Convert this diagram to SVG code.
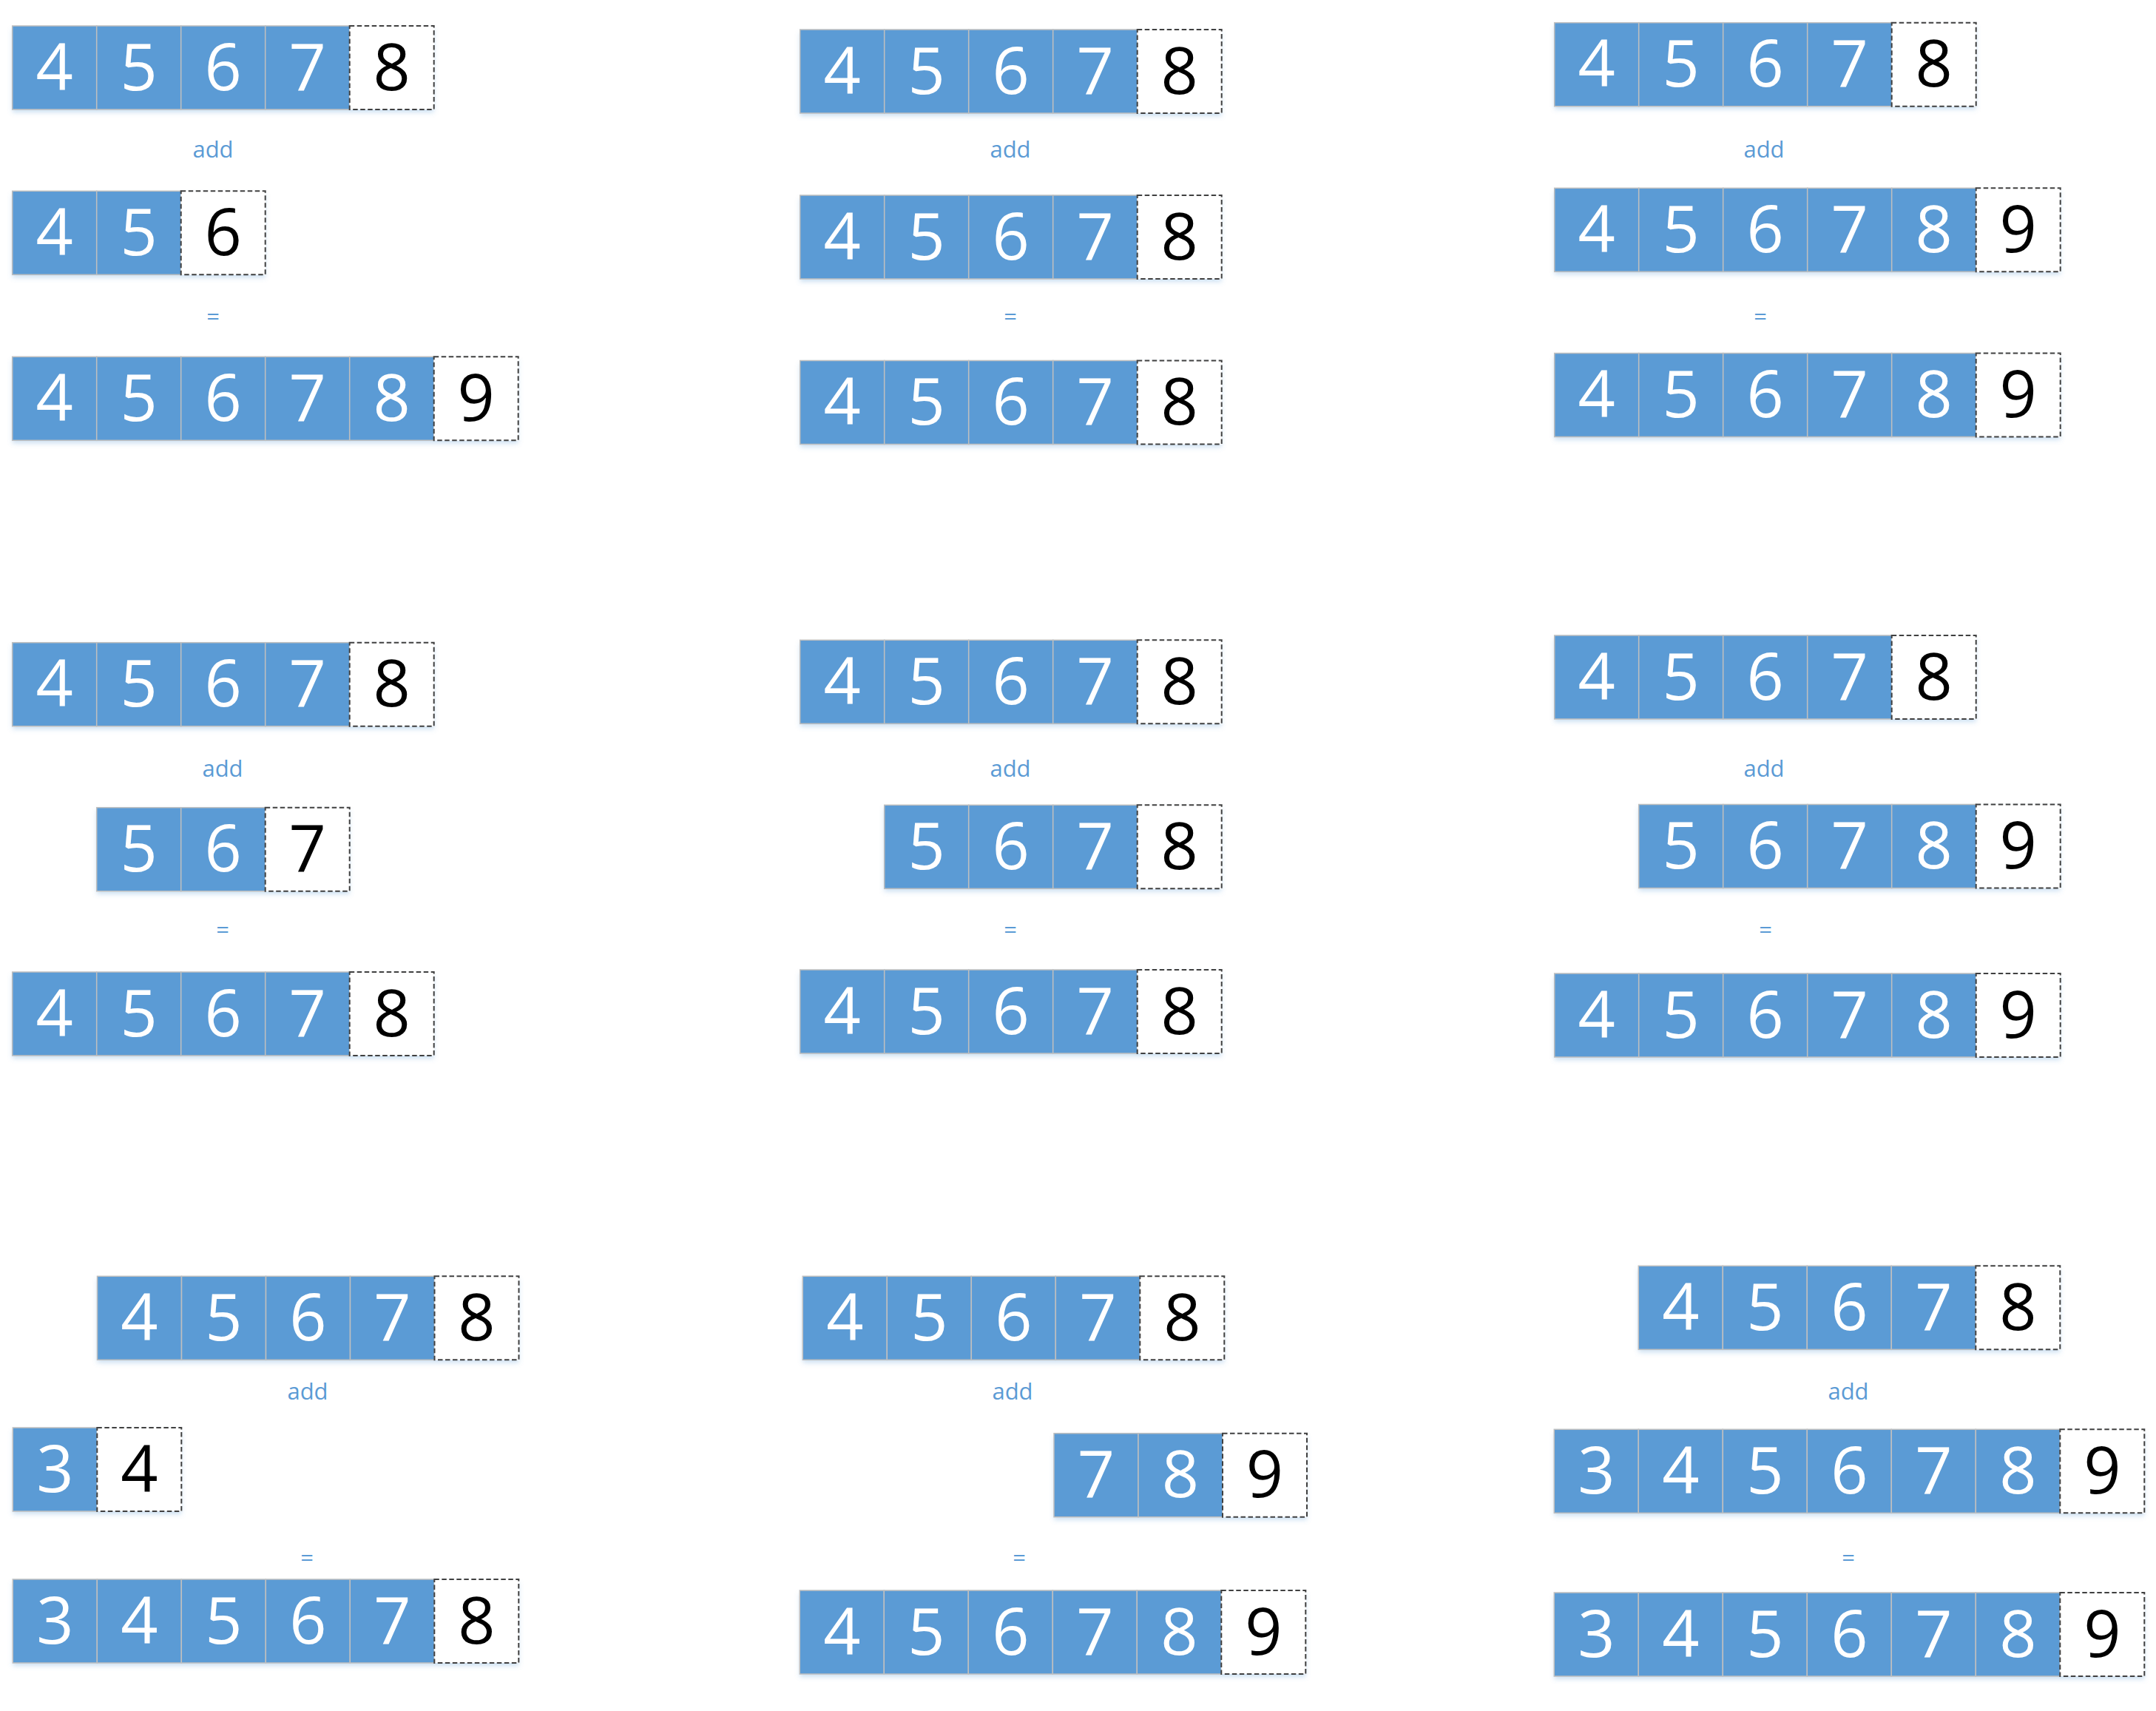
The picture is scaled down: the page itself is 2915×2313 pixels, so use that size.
<svg xmlns="http://www.w3.org/2000/svg" width="2915" height="2313" viewBox="0 0 2915 2313">
<defs>
<filter id="sh" x="-5%" y="-20%" width="110%" height="150%">
<feDropShadow dx="0" dy="4" stdDeviation="3" flood-color="#5B9BD5" flood-opacity="0.3"/>
</filter>
<style>
.s{fill:#fff;filter:url(#sh)}
.c{fill:#5B9BD5;stroke:#BFBFBF;stroke-width:1.5}
.d{fill:#fff;stroke:#404040;stroke-width:2;stroke-dasharray:6.5 3.5}
.w,.k{font-family:"Open Sans","Noto Sans","DejaVu Sans",sans-serif;font-size:88px;text-anchor:middle}
.w{fill:#fff}
.k{fill:#000}
.lbl{font-family:"Open Sans","Noto Sans",sans-serif;font-size:31px;fill:#5B9BD5;text-anchor:middle}
</style>
</defs>
<rect width="2915" height="2313" fill="#fff"/>

<!-- Panel top-left -->
<g id="panel-tl">
<g id="tl-r1" transform="translate(16.7,35)">
<rect class="s" width="570" height="113"/>
<rect class="c" x="0" width="114" height="113"/><text class="w" x="57" y="86.5">4</text>
<rect class="c" x="114" width="114" height="113"/><text class="w" x="171" y="86.5">5</text>
<rect class="c" x="228" width="114" height="113"/><text class="w" x="285" y="86.5">6</text>
<rect class="c" x="342" width="114" height="113"/><text class="w" x="399" y="86.5">7</text>
<rect class="d" x="456" width="114" height="113"/><text class="k" x="513" y="86.5">8</text>
</g>
<text id="tl-add" class="lbl" x="288" y="213">add</text>
<g id="tl-r2" transform="translate(16.7,258.3)">
<rect class="s" width="342" height="113"/>
<rect class="c" x="0" width="114" height="113"/><text class="w" x="57" y="86.5">4</text>
<rect class="c" x="114" width="114" height="113"/><text class="w" x="171" y="86.5">5</text>
<rect class="d" x="228" width="114" height="113"/><text class="k" x="285" y="86.5">6</text>
</g>
<text id="tl-eq" class="lbl" x="288" y="439">=</text>
<g id="tl-r3" transform="translate(16.7,482.3)">
<rect class="s" width="684" height="113"/>
<rect class="c" x="0" width="114" height="113"/><text class="w" x="57" y="86.5">4</text>
<rect class="c" x="114" width="114" height="113"/><text class="w" x="171" y="86.5">5</text>
<rect class="c" x="228" width="114" height="113"/><text class="w" x="285" y="86.5">6</text>
<rect class="c" x="342" width="114" height="113"/><text class="w" x="399" y="86.5">7</text>
<rect class="c" x="456" width="114" height="113"/><text class="w" x="513" y="86.5">8</text>
<rect class="d" x="570" width="114" height="113"/><text class="k" x="627" y="86.5">9</text>
</g>
</g>

<!-- Panel top-middle -->
<g id="panel-tm">
<g id="tm-r1" transform="translate(1081.7,40)">
<rect class="s" width="570" height="113"/>
<rect class="c" x="0" width="114" height="113"/><text class="w" x="57" y="86.5">4</text>
<rect class="c" x="114" width="114" height="113"/><text class="w" x="171" y="86.5">5</text>
<rect class="c" x="228" width="114" height="113"/><text class="w" x="285" y="86.5">6</text>
<rect class="c" x="342" width="114" height="113"/><text class="w" x="399" y="86.5">7</text>
<rect class="d" x="456" width="114" height="113"/><text class="k" x="513" y="86.5">8</text>
</g>
<text id="tm-add" class="lbl" x="1366" y="213">add</text>
<g id="tm-r2" transform="translate(1081.7,264)">
<rect class="s" width="570" height="113"/>
<rect class="c" x="0" width="114" height="113"/><text class="w" x="57" y="86.5">4</text>
<rect class="c" x="114" width="114" height="113"/><text class="w" x="171" y="86.5">5</text>
<rect class="c" x="228" width="114" height="113"/><text class="w" x="285" y="86.5">6</text>
<rect class="c" x="342" width="114" height="113"/><text class="w" x="399" y="86.5">7</text>
<rect class="d" x="456" width="114" height="113"/><text class="k" x="513" y="86.5">8</text>
</g>
<text id="tm-eq" class="lbl" x="1366" y="439">=</text>
<g id="tm-r3" transform="translate(1081.7,487.5)">
<rect class="s" width="570" height="113"/>
<rect class="c" x="0" width="114" height="113"/><text class="w" x="57" y="86.5">4</text>
<rect class="c" x="114" width="114" height="113"/><text class="w" x="171" y="86.5">5</text>
<rect class="c" x="228" width="114" height="113"/><text class="w" x="285" y="86.5">6</text>
<rect class="c" x="342" width="114" height="113"/><text class="w" x="399" y="86.5">7</text>
<rect class="d" x="456" width="114" height="113"/><text class="k" x="513" y="86.5">8</text>
</g>
</g>

<!-- Panel top-right -->
<g id="panel-tr">
<g id="tr-r1" transform="translate(2101.7,30.7)">
<rect class="s" width="570" height="113"/>
<rect class="c" x="0" width="114" height="113"/><text class="w" x="57" y="86.5">4</text>
<rect class="c" x="114" width="114" height="113"/><text class="w" x="171" y="86.5">5</text>
<rect class="c" x="228" width="114" height="113"/><text class="w" x="285" y="86.5">6</text>
<rect class="c" x="342" width="114" height="113"/><text class="w" x="399" y="86.5">7</text>
<rect class="d" x="456" width="114" height="113"/><text class="k" x="513" y="86.5">8</text>
</g>
<text id="tr-add" class="lbl" x="2385" y="213">add</text>
<g id="tr-r2" transform="translate(2101.7,254.3)">
<rect class="s" width="684" height="113"/>
<rect class="c" x="0" width="114" height="113"/><text class="w" x="57" y="86.5">4</text>
<rect class="c" x="114" width="114" height="113"/><text class="w" x="171" y="86.5">5</text>
<rect class="c" x="228" width="114" height="113"/><text class="w" x="285" y="86.5">6</text>
<rect class="c" x="342" width="114" height="113"/><text class="w" x="399" y="86.5">7</text>
<rect class="c" x="456" width="114" height="113"/><text class="w" x="513" y="86.5">8</text>
<rect class="d" x="570" width="114" height="113"/><text class="k" x="627" y="86.5">9</text>
</g>
<text id="tr-eq" class="lbl" x="2380" y="439">=</text>
<g id="tr-r3" transform="translate(2101.7,477.5)">
<rect class="s" width="684" height="113"/>
<rect class="c" x="0" width="114" height="113"/><text class="w" x="57" y="86.5">4</text>
<rect class="c" x="114" width="114" height="113"/><text class="w" x="171" y="86.5">5</text>
<rect class="c" x="228" width="114" height="113"/><text class="w" x="285" y="86.5">6</text>
<rect class="c" x="342" width="114" height="113"/><text class="w" x="399" y="86.5">7</text>
<rect class="c" x="456" width="114" height="113"/><text class="w" x="513" y="86.5">8</text>
<rect class="d" x="570" width="114" height="113"/><text class="k" x="627" y="86.5">9</text>
</g>
</g>

<!-- Panel middle-left -->
<g id="panel-ml">
<g id="ml-r1" transform="translate(16.7,868.7)">
<rect class="s" width="570" height="113"/>
<rect class="c" x="0" width="114" height="113"/><text class="w" x="57" y="86.5">4</text>
<rect class="c" x="114" width="114" height="113"/><text class="w" x="171" y="86.5">5</text>
<rect class="c" x="228" width="114" height="113"/><text class="w" x="285" y="86.5">6</text>
<rect class="c" x="342" width="114" height="113"/><text class="w" x="399" y="86.5">7</text>
<rect class="d" x="456" width="114" height="113"/><text class="k" x="513" y="86.5">8</text>
</g>
<text id="ml-add" class="lbl" x="301" y="1050">add</text>
<g id="ml-r2" transform="translate(130.7,1091.7)">
<rect class="s" width="342" height="113"/>
<rect class="c" x="0" width="114" height="113"/><text class="w" x="57" y="86.5">5</text>
<rect class="c" x="114" width="114" height="113"/><text class="w" x="171" y="86.5">6</text>
<rect class="d" x="228" width="114" height="113"/><text class="k" x="285" y="86.5">7</text>
</g>
<text id="ml-eq" class="lbl" x="301" y="1268">=</text>
<g id="ml-r3" transform="translate(16.7,1314)">
<rect class="s" width="570" height="113"/>
<rect class="c" x="0" width="114" height="113"/><text class="w" x="57" y="86.5">4</text>
<rect class="c" x="114" width="114" height="113"/><text class="w" x="171" y="86.5">5</text>
<rect class="c" x="228" width="114" height="113"/><text class="w" x="285" y="86.5">6</text>
<rect class="c" x="342" width="114" height="113"/><text class="w" x="399" y="86.5">7</text>
<rect class="d" x="456" width="114" height="113"/><text class="k" x="513" y="86.5">8</text>
</g>
</g>

<!-- Panel middle-middle -->
<g id="panel-mm">
<g id="mm-r1" transform="translate(1081.7,865.3)">
<rect class="s" width="570" height="113"/>
<rect class="c" x="0" width="114" height="113"/><text class="w" x="57" y="86.5">4</text>
<rect class="c" x="114" width="114" height="113"/><text class="w" x="171" y="86.5">5</text>
<rect class="c" x="228" width="114" height="113"/><text class="w" x="285" y="86.5">6</text>
<rect class="c" x="342" width="114" height="113"/><text class="w" x="399" y="86.5">7</text>
<rect class="d" x="456" width="114" height="113"/><text class="k" x="513" y="86.5">8</text>
</g>
<text id="mm-add" class="lbl" x="1366" y="1050">add</text>
<g id="mm-r2" transform="translate(1195.7,1088.3)">
<rect class="s" width="456" height="113"/>
<rect class="c" x="0" width="114" height="113"/><text class="w" x="57" y="86.5">5</text>
<rect class="c" x="114" width="114" height="113"/><text class="w" x="171" y="86.5">6</text>
<rect class="c" x="228" width="114" height="113"/><text class="w" x="285" y="86.5">7</text>
<rect class="d" x="342" width="114" height="113"/><text class="k" x="399" y="86.5">8</text>
</g>
<text id="mm-eq" class="lbl" x="1366" y="1268">=</text>
<g id="mm-r3" transform="translate(1081.7,1311)">
<rect class="s" width="570" height="113"/>
<rect class="c" x="0" width="114" height="113"/><text class="w" x="57" y="86.5">4</text>
<rect class="c" x="114" width="114" height="113"/><text class="w" x="171" y="86.5">5</text>
<rect class="c" x="228" width="114" height="113"/><text class="w" x="285" y="86.5">6</text>
<rect class="c" x="342" width="114" height="113"/><text class="w" x="399" y="86.5">7</text>
<rect class="d" x="456" width="114" height="113"/><text class="k" x="513" y="86.5">8</text>
</g>
</g>

<!-- Panel middle-right -->
<g id="panel-mr">
<g id="mr-r1" transform="translate(2101.7,859)">
<rect class="s" width="570" height="113"/>
<rect class="c" x="0" width="114" height="113"/><text class="w" x="57" y="86.5">4</text>
<rect class="c" x="114" width="114" height="113"/><text class="w" x="171" y="86.5">5</text>
<rect class="c" x="228" width="114" height="113"/><text class="w" x="285" y="86.5">6</text>
<rect class="c" x="342" width="114" height="113"/><text class="w" x="399" y="86.5">7</text>
<rect class="d" x="456" width="114" height="113"/><text class="k" x="513" y="86.5">8</text>
</g>
<text id="mr-add" class="lbl" x="2385" y="1050">add</text>
<g id="mr-r2" transform="translate(2215.7,1087.5)">
<rect class="s" width="570" height="113"/>
<rect class="c" x="0" width="114" height="113"/><text class="w" x="57" y="86.5">5</text>
<rect class="c" x="114" width="114" height="113"/><text class="w" x="171" y="86.5">6</text>
<rect class="c" x="228" width="114" height="113"/><text class="w" x="285" y="86.5">7</text>
<rect class="c" x="342" width="114" height="113"/><text class="w" x="399" y="86.5">8</text>
<rect class="d" x="456" width="114" height="113"/><text class="k" x="513" y="86.5">9</text>
</g>
<text id="mr-eq" class="lbl" x="2387" y="1268">=</text>
<g id="mr-r3" transform="translate(2101.7,1316)">
<rect class="s" width="684" height="113"/>
<rect class="c" x="0" width="114" height="113"/><text class="w" x="57" y="86.5">4</text>
<rect class="c" x="114" width="114" height="113"/><text class="w" x="171" y="86.5">5</text>
<rect class="c" x="228" width="114" height="113"/><text class="w" x="285" y="86.5">6</text>
<rect class="c" x="342" width="114" height="113"/><text class="w" x="399" y="86.5">7</text>
<rect class="c" x="456" width="114" height="113"/><text class="w" x="513" y="86.5">8</text>
<rect class="d" x="570" width="114" height="113"/><text class="k" x="627" y="86.5">9</text>
</g>
</g>

<!-- Panel bottom-left -->
<g id="panel-bl">
<g id="bl-r1" transform="translate(131.5,1725.3)">
<rect class="s" width="570" height="113"/>
<rect class="c" x="0" width="114" height="113"/><text class="w" x="57" y="86.5">4</text>
<rect class="c" x="114" width="114" height="113"/><text class="w" x="171" y="86.5">5</text>
<rect class="c" x="228" width="114" height="113"/><text class="w" x="285" y="86.5">6</text>
<rect class="c" x="342" width="114" height="113"/><text class="w" x="399" y="86.5">7</text>
<rect class="d" x="456" width="114" height="113"/><text class="k" x="513" y="86.5">8</text>
</g>
<text id="bl-add" class="lbl" x="416" y="1892">add</text>
<g id="bl-r2" transform="translate(17.3,1930)">
<rect class="s" width="228" height="113"/>
<rect class="c" x="0" width="114" height="113"/><text class="w" x="57" y="86.5">3</text>
<rect class="d" x="114" width="114" height="113"/><text class="k" x="171" y="86.5">4</text>
</g>
<text id="bl-eq" class="lbl" x="415" y="2117">=</text>
<g id="bl-r3" transform="translate(17.3,2135)">
<rect class="s" width="684" height="113"/>
<rect class="c" x="0" width="114" height="113"/><text class="w" x="57" y="86.5">3</text>
<rect class="c" x="114" width="114" height="113"/><text class="w" x="171" y="86.5">4</text>
<rect class="c" x="228" width="114" height="113"/><text class="w" x="285" y="86.5">5</text>
<rect class="c" x="342" width="114" height="113"/><text class="w" x="399" y="86.5">6</text>
<rect class="c" x="456" width="114" height="113"/><text class="w" x="513" y="86.5">7</text>
<rect class="d" x="570" width="114" height="113"/><text class="k" x="627" y="86.5">8</text>
</g>
</g>

<!-- Panel bottom-middle -->
<g id="panel-bm">
<g id="bm-r1" transform="translate(1085.3,1725.3)">
<rect class="s" width="570" height="113"/>
<rect class="c" x="0" width="114" height="113"/><text class="w" x="57" y="86.5">4</text>
<rect class="c" x="114" width="114" height="113"/><text class="w" x="171" y="86.5">5</text>
<rect class="c" x="228" width="114" height="113"/><text class="w" x="285" y="86.5">6</text>
<rect class="c" x="342" width="114" height="113"/><text class="w" x="399" y="86.5">7</text>
<rect class="d" x="456" width="114" height="113"/><text class="k" x="513" y="86.5">8</text>
</g>
<text id="bm-add" class="lbl" x="1369" y="1892">add</text>
<g id="bm-r2" transform="translate(1425,1937.7)">
<rect class="s" width="342" height="113"/>
<rect class="c" x="0" width="114" height="113"/><text class="w" x="57" y="86.5">7</text>
<rect class="c" x="114" width="114" height="113"/><text class="w" x="171" y="86.5">8</text>
<rect class="d" x="228" width="114" height="113"/><text class="k" x="285" y="86.5">9</text>
</g>
<text id="bm-eq" class="lbl" x="1378" y="2117">=</text>
<g id="bm-r3" transform="translate(1081.3,2150)">
<rect class="s" width="684" height="113"/>
<rect class="c" x="0" width="114" height="113"/><text class="w" x="57" y="86.5">4</text>
<rect class="c" x="114" width="114" height="113"/><text class="w" x="171" y="86.5">5</text>
<rect class="c" x="228" width="114" height="113"/><text class="w" x="285" y="86.5">6</text>
<rect class="c" x="342" width="114" height="113"/><text class="w" x="399" y="86.5">7</text>
<rect class="c" x="456" width="114" height="113"/><text class="w" x="513" y="86.5">8</text>
<rect class="d" x="570" width="114" height="113"/><text class="k" x="627" y="86.5">9</text>
</g>
</g>

<!-- Panel bottom-right -->
<g id="panel-br">
<g id="br-r1" transform="translate(2215.3,1711.3)">
<rect class="s" width="570" height="113"/>
<rect class="c" x="0" width="114" height="113"/><text class="w" x="57" y="86.5">4</text>
<rect class="c" x="114" width="114" height="113"/><text class="w" x="171" y="86.5">5</text>
<rect class="c" x="228" width="114" height="113"/><text class="w" x="285" y="86.5">6</text>
<rect class="c" x="342" width="114" height="113"/><text class="w" x="399" y="86.5">7</text>
<rect class="d" x="456" width="114" height="113"/><text class="k" x="513" y="86.5">8</text>
</g>
<text id="br-add" class="lbl" x="2499" y="1892">add</text>
<g id="br-r2" transform="translate(2101.3,1932.3)">
<rect class="s" width="798" height="113"/>
<rect class="c" x="0" width="114" height="113"/><text class="w" x="57" y="86.5">3</text>
<rect class="c" x="114" width="114" height="113"/><text class="w" x="171" y="86.5">4</text>
<rect class="c" x="228" width="114" height="113"/><text class="w" x="285" y="86.5">5</text>
<rect class="c" x="342" width="114" height="113"/><text class="w" x="399" y="86.5">6</text>
<rect class="c" x="456" width="114" height="113"/><text class="w" x="513" y="86.5">7</text>
<rect class="c" x="570" width="114" height="113"/><text class="w" x="627" y="86.5">8</text>
<rect class="d" x="684" width="114" height="113"/><text class="k" x="741" y="86.5">9</text>
</g>
<text id="br-eq" class="lbl" x="2499" y="2117">=</text>
<g id="br-r3" transform="translate(2101.3,2153)">
<rect class="s" width="798" height="113"/>
<rect class="c" x="0" width="114" height="113"/><text class="w" x="57" y="86.5">3</text>
<rect class="c" x="114" width="114" height="113"/><text class="w" x="171" y="86.5">4</text>
<rect class="c" x="228" width="114" height="113"/><text class="w" x="285" y="86.5">5</text>
<rect class="c" x="342" width="114" height="113"/><text class="w" x="399" y="86.5">6</text>
<rect class="c" x="456" width="114" height="113"/><text class="w" x="513" y="86.5">7</text>
<rect class="c" x="570" width="114" height="113"/><text class="w" x="627" y="86.5">8</text>
<rect class="d" x="684" width="114" height="113"/><text class="k" x="741" y="86.5">9</text>
</g>
</g>
</svg>
